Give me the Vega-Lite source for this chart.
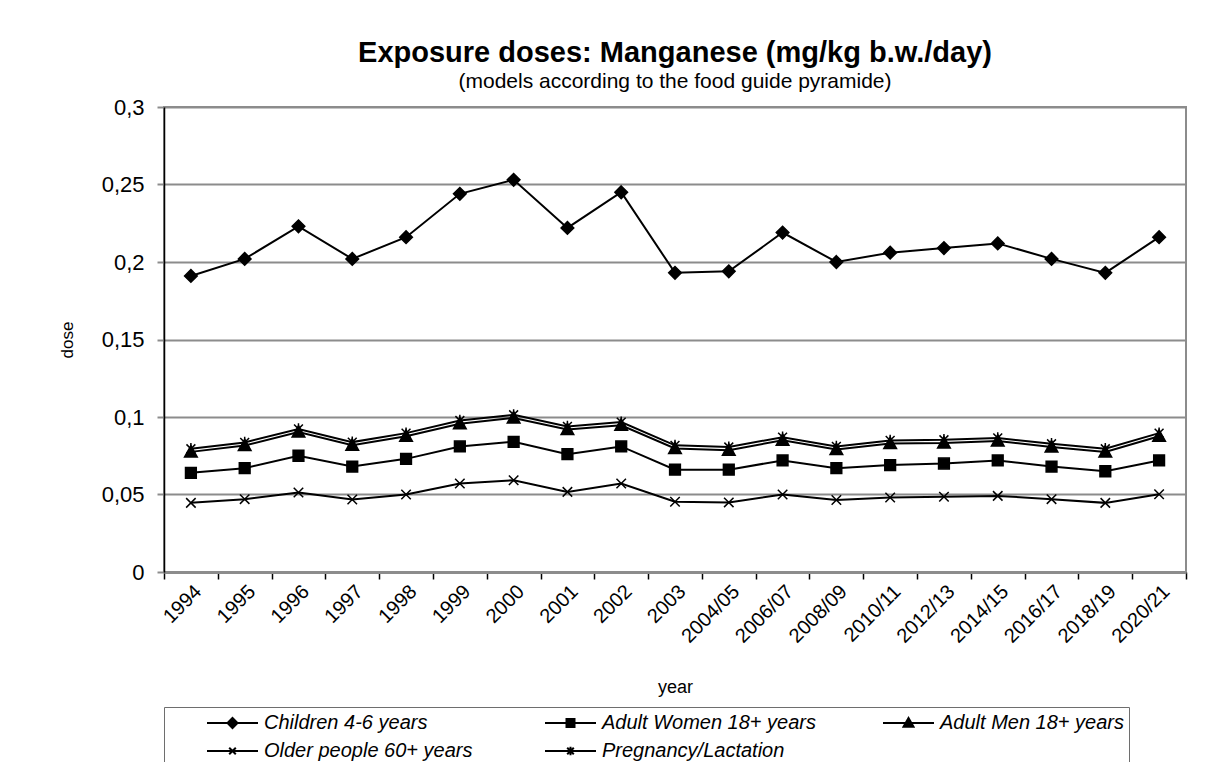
{
  "$schema": "https://vega.github.io/schema/vega-lite/v6.json",
  "width": 1022,
  "height": 465,
  "padding": {"left": 58, "top": 39, "right": 10, "bottom": 0},
  "background": "white",
  "title": {
    "text": "Exposure doses: Manganese (mg/kg b.w./day)",
    "subtitle": "(models according to the food guide pyramide)",
    "anchor": "middle",
    "frame": "group",
    "font": "Liberation Sans",
    "fontSize": 29,
    "fontWeight": "bold",
    "color": "black",
    "subtitleFont": "Liberation Sans",
    "subtitleFontSize": 21,
    "subtitleColor": "black",
    "subtitlePadding": 3,
    "offset": 4
  },
  "data": {
    "values": [
      {"year": "1994", "series": "Children 4-6 years", "dose": 0.191},
      {"year": "1995", "series": "Children 4-6 years", "dose": 0.202},
      {"year": "1996", "series": "Children 4-6 years", "dose": 0.223},
      {"year": "1997", "series": "Children 4-6 years", "dose": 0.202},
      {"year": "1998", "series": "Children 4-6 years", "dose": 0.216},
      {"year": "1999", "series": "Children 4-6 years", "dose": 0.244},
      {"year": "2000", "series": "Children 4-6 years", "dose": 0.253},
      {"year": "2001", "series": "Children 4-6 years", "dose": 0.222},
      {"year": "2002", "series": "Children 4-6 years", "dose": 0.245},
      {"year": "2003", "series": "Children 4-6 years", "dose": 0.193},
      {"year": "2004/05", "series": "Children 4-6 years", "dose": 0.194},
      {"year": "2006/07", "series": "Children 4-6 years", "dose": 0.219},
      {"year": "2008/09", "series": "Children 4-6 years", "dose": 0.2},
      {"year": "2010/11", "series": "Children 4-6 years", "dose": 0.206},
      {"year": "2012/13", "series": "Children 4-6 years", "dose": 0.209},
      {"year": "2014/15", "series": "Children 4-6 years", "dose": 0.212},
      {"year": "2016/17", "series": "Children 4-6 years", "dose": 0.202},
      {"year": "2018/19", "series": "Children 4-6 years", "dose": 0.193},
      {"year": "2020/21", "series": "Children 4-6 years", "dose": 0.216},

      {"year": "1994", "series": "Adult Women 18+ years", "dose": 0.064},
      {"year": "1995", "series": "Adult Women 18+ years", "dose": 0.067},
      {"year": "1996", "series": "Adult Women 18+ years", "dose": 0.075},
      {"year": "1997", "series": "Adult Women 18+ years", "dose": 0.068},
      {"year": "1998", "series": "Adult Women 18+ years", "dose": 0.073},
      {"year": "1999", "series": "Adult Women 18+ years", "dose": 0.081},
      {"year": "2000", "series": "Adult Women 18+ years", "dose": 0.084},
      {"year": "2001", "series": "Adult Women 18+ years", "dose": 0.076},
      {"year": "2002", "series": "Adult Women 18+ years", "dose": 0.081},
      {"year": "2003", "series": "Adult Women 18+ years", "dose": 0.066},
      {"year": "2004/05", "series": "Adult Women 18+ years", "dose": 0.066},
      {"year": "2006/07", "series": "Adult Women 18+ years", "dose": 0.072},
      {"year": "2008/09", "series": "Adult Women 18+ years", "dose": 0.067},
      {"year": "2010/11", "series": "Adult Women 18+ years", "dose": 0.069},
      {"year": "2012/13", "series": "Adult Women 18+ years", "dose": 0.07},
      {"year": "2014/15", "series": "Adult Women 18+ years", "dose": 0.072},
      {"year": "2016/17", "series": "Adult Women 18+ years", "dose": 0.068},
      {"year": "2018/19", "series": "Adult Women 18+ years", "dose": 0.065},
      {"year": "2020/21", "series": "Adult Women 18+ years", "dose": 0.072},

      {"year": "1994", "series": "Adult Men 18+ years", "dose": 0.0775},
      {"year": "1995", "series": "Adult Men 18+ years", "dose": 0.0816},
      {"year": "1996", "series": "Adult Men 18+ years", "dose": 0.0903},
      {"year": "1997", "series": "Adult Men 18+ years", "dose": 0.0818},
      {"year": "1998", "series": "Adult Men 18+ years", "dose": 0.0876},
      {"year": "1999", "series": "Adult Men 18+ years", "dose": 0.0957},
      {"year": "2000", "series": "Adult Men 18+ years", "dose": 0.0994},
      {"year": "2001", "series": "Adult Men 18+ years", "dose": 0.0919},
      {"year": "2002", "series": "Adult Men 18+ years", "dose": 0.0947},
      {"year": "2003", "series": "Adult Men 18+ years", "dose": 0.0797},
      {"year": "2004/05", "series": "Adult Men 18+ years", "dose": 0.0786},
      {"year": "2006/07", "series": "Adult Men 18+ years", "dose": 0.085},
      {"year": "2008/09", "series": "Adult Men 18+ years", "dose": 0.079},
      {"year": "2010/11", "series": "Adult Men 18+ years", "dose": 0.0829},
      {"year": "2012/13", "series": "Adult Men 18+ years", "dose": 0.0833},
      {"year": "2014/15", "series": "Adult Men 18+ years", "dose": 0.0845},
      {"year": "2016/17", "series": "Adult Men 18+ years", "dose": 0.0807},
      {"year": "2018/19", "series": "Adult Men 18+ years", "dose": 0.0775},
      {"year": "2020/21", "series": "Adult Men 18+ years", "dose": 0.0876},

      {"year": "1994", "series": "Older people 60+ years", "dose": 0.0446},
      {"year": "1995", "series": "Older people 60+ years", "dose": 0.047},
      {"year": "1996", "series": "Older people 60+ years", "dose": 0.0513},
      {"year": "1997", "series": "Older people 60+ years", "dose": 0.0468},
      {"year": "1998", "series": "Older people 60+ years", "dose": 0.05},
      {"year": "1999", "series": "Older people 60+ years", "dose": 0.0571},
      {"year": "2000", "series": "Older people 60+ years", "dose": 0.0592},
      {"year": "2001", "series": "Older people 60+ years", "dose": 0.0517},
      {"year": "2002", "series": "Older people 60+ years", "dose": 0.0571},
      {"year": "2003", "series": "Older people 60+ years", "dose": 0.0453},
      {"year": "2004/05", "series": "Older people 60+ years", "dose": 0.0449},
      {"year": "2006/07", "series": "Older people 60+ years", "dose": 0.05},
      {"year": "2008/09", "series": "Older people 60+ years", "dose": 0.0464},
      {"year": "2010/11", "series": "Older people 60+ years", "dose": 0.0481},
      {"year": "2012/13", "series": "Older people 60+ years", "dose": 0.0485},
      {"year": "2014/15", "series": "Older people 60+ years", "dose": 0.0491},
      {"year": "2016/17", "series": "Older people 60+ years", "dose": 0.047},
      {"year": "2018/19", "series": "Older people 60+ years", "dose": 0.0446},
      {"year": "2020/21", "series": "Older people 60+ years", "dose": 0.0502},

      {"year": "1994", "series": "Pregnancy/Lactation", "dose": 0.0795},
      {"year": "1995", "series": "Pregnancy/Lactation", "dose": 0.0836},
      {"year": "1996", "series": "Pregnancy/Lactation", "dose": 0.0923},
      {"year": "1997", "series": "Pregnancy/Lactation", "dose": 0.0838},
      {"year": "1998", "series": "Pregnancy/Lactation", "dose": 0.0896},
      {"year": "1999", "series": "Pregnancy/Lactation", "dose": 0.0977},
      {"year": "2000", "series": "Pregnancy/Lactation", "dose": 0.1014},
      {"year": "2001", "series": "Pregnancy/Lactation", "dose": 0.0939},
      {"year": "2002", "series": "Pregnancy/Lactation", "dose": 0.0967},
      {"year": "2003", "series": "Pregnancy/Lactation", "dose": 0.0817},
      {"year": "2004/05", "series": "Pregnancy/Lactation", "dose": 0.0806},
      {"year": "2006/07", "series": "Pregnancy/Lactation", "dose": 0.087},
      {"year": "2008/09", "series": "Pregnancy/Lactation", "dose": 0.081},
      {"year": "2010/11", "series": "Pregnancy/Lactation", "dose": 0.0849},
      {"year": "2012/13", "series": "Pregnancy/Lactation", "dose": 0.0853},
      {"year": "2014/15", "series": "Pregnancy/Lactation", "dose": 0.0865},
      {"year": "2016/17", "series": "Pregnancy/Lactation", "dose": 0.0827},
      {"year": "2018/19", "series": "Pregnancy/Lactation", "dose": 0.0795},
      {"year": "2020/21", "series": "Pregnancy/Lactation", "dose": 0.0896}
    ]
  },
  "encoding": {
    "x": {
      "field": "year",
      "type": "nominal",
      "sort": null,
      "scale": {"type": "band", "paddingInner": 0, "paddingOuter": 0},
      "axis": {
        "title": "year",
        "labelAngle": -45,
        "labelFontSize": 20,
        "labelColor": "black",
        "labelPadding": 2,
        "tickBand": "extent",
        "tickSize": 7,
        "tickColor": "black",
        "tickWidth": 1.5,
        "domainColor": "#8c8c8c",
        "domainWidth": 3,
        "grid": false,
        "titleFontSize": 18,
        "titleFontWeight": "normal",
        "titleColor": "black",
        "titlePadding": 32
      }
    },
    "y": {
      "field": "dose",
      "type": "quantitative",
      "scale": {"domain": [0, 0.3], "nice": false},
      "axis": {
        "title": "dose",
        "values": [0, 0.05, 0.1, 0.15, 0.2, 0.25, 0.3],
        "labelExpr": "replace(format(datum.value, '.2~f'), '.', ',')",
        "labelFontSize": 22,
        "labelColor": "black",
        "labelPadding": 13,
        "tickSize": 7,
        "tickColor": "#8c8c8c",
        "tickWidth": 2,
        "domainColor": "black",
        "domainWidth": 1.5,
        "grid": true,
        "gridColor": "#8c8c8c",
        "gridWidth": 2,
        "titleFontSize": 17,
        "titleFontWeight": "normal",
        "titleColor": "black",
        "titlePadding": 25
      }
    }
  },
  "layer": [
    {
      "mark": {"type": "line", "color": "black", "strokeWidth": 2},
      "encoding": {"detail": {"field": "series"}}
    },
    {
      "mark": {
        "type": "point",
        "filled": true,
        "color": "black",
        "stroke": "black",
        "strokeWidth": 1.5,
        "opacity": 1,
        "size": 160
      },
      "encoding": {
        "shape": {
          "field": "series",
          "type": "nominal",
          "scale": {
            "domain": [
              "Children 4-6 years",
              "Adult Women 18+ years",
              "Adult Men 18+ years",
              "Older people 60+ years",
              "Pregnancy/Lactation"
            ],
            "range": [
              "M0,-1L1,0L0,1L-1,0Z",
              "M-0.85,-0.85H0.85V0.85H-0.85Z",
              "M0,-1L1,0.8H-1Z",
              "M-0.75,-0.75L0.75,0.75M-0.75,0.75L0.75,-0.75",
              "M-0.7,-0.7L0.7,0.7M-0.7,0.7L0.7,-0.7M0,-0.9V0.9"
            ]
          },
          "legend": null
        }
      }
    },
    {
      "transform": [{"filter": "datum.dose < 0"}],
      "mark": {
        "type": "point",
        "filled": false,
        "fill": "black",
        "stroke": "black",
        "strokeWidth": 2,
        "opacity": 1
      },
      "encoding": {
        "shape": {
          "field": "series",
          "type": "nominal",
          "scale": {
            "domain": [
              "Children 4-6 years",
              "Adult Women 18+ years",
              "Adult Men 18+ years",
              "Older people 60+ years",
              "Pregnancy/Lactation"
            ],
            "range": [
              "M-2.55,0H2.55M0,-0.5L0.5,0L0,0.5L-0.5,0Z",
              "M-2.55,0H2.55M-0.4,-0.4H0.4V0.4H-0.4Z",
              "M-2.55,0H2.55M0,-0.5L0.5,0.38H-0.5Z",
              "M-2.55,0H2.55M-0.33,-0.33L0.33,0.33M-0.33,0.33L0.33,-0.33",
              "M-2.55,0H2.55M-0.33,-0.33L0.33,0.33M-0.33,0.33L0.33,-0.33M0,-0.42V0.42"
            ]
          },
          "legend": {
            "title": null,
            "orient": "bottom",
            "direction": "horizontal",
            "columns": 3,
            "gridAlign": "all",
            "columnPadding": 29,
            "rowPadding": 7,
            "padding": 5,
            "offset": 10,
            "strokeColor": "#6e6e6e",
            "fillColor": "white",
            "symbolSize": 400,
            "symbolOffset": 52.5,
            "symbolStrokeWidth": 2,
            "labelOffset": 20.5,
            "labelFont": "Liberation Sans",
            "labelFontStyle": "italic",
            "labelFontSize": 20,
            "labelColor": "black",
            "labelLimit": 400
          }
        }
      }
    }
  ],
  "resolve": {"scale": {"shape": "independent"}, "legend": {"shape": "independent"}},
  "config": {
    "font": "Liberation Sans",
    "view": {"stroke": "#8c8c8c", "strokeWidth": 2}
  }
}
